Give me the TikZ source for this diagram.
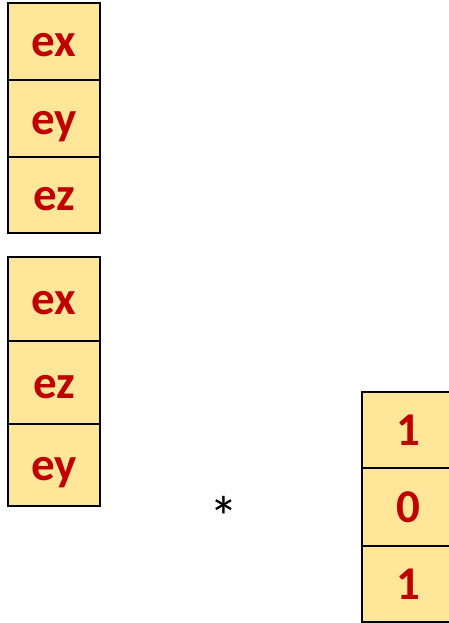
\documentclass[tikz,border=0pt]{standalone}
\usepackage{fontspec}
\setmainfont{Carlito}
\definecolor{cellfill}{HTML}{FFE699}
\definecolor{celltext}{HTML}{C00000}
\tikzset{
  cell/.style={draw=black, line width=2.5pt, fill=cellfill, text=celltext,
    font=\fontsize{47}{56}\selectfont\bfseries, minimum width=92pt,
    inner sep=0pt, outer sep=0pt, text height=38pt, text depth=7pt},
  opsym/.style={font=\fontsize{58}{68}\selectfont, inner sep=0pt, anchor=base}
}
\begin{document}
\begin{tikzpicture}[x=1pt,y=-1pt]
\useasboundingbox (0,0) rectangle (449,623);
% first column
\node[cell, minimum height=77pt] (a1) at (54,41.5) {ex};
\node[cell, minimum height=77pt] (a2) at (54,118.5) {ey};
\node[cell, minimum height=76pt] (a3) at (54,195) {ez};
% second column
\node[cell, minimum height=84pt] (b1) at (54,299) {ex};
\node[cell, minimum height=83pt] (b2) at (54,382.5) {ez};
\node[cell, minimum height=82pt] (b3) at (54,465) {ey};
% third column
\node[cell, minimum height=76pt] (c1) at (408,430) {1};
\node[cell, minimum height=78pt] (c2) at (408,507) {0};
\node[cell, minimum height=76pt] (c3) at (408,584) {1};
% operator
\node[opsym] (op) at (224,537) {*};
\end{tikzpicture}
\end{document}
